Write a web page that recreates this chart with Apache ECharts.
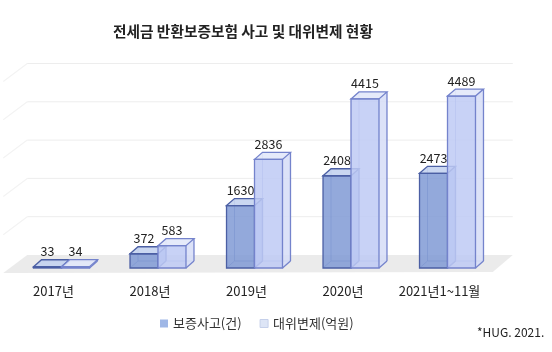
<!DOCTYPE html>
<html>
<head>
<meta charset="utf-8">
<script src="https://cdn.jsdelivr.net/npm/echarts@6/dist/echarts.min.js"></script>
<style>
  html, body { margin: 0; padding: 0; background: #fff; }
  #main { width: 552px; height: 352px; }
</style>
</head>
<body>
<div id="main"></div>
<script>
	'use strict';

	var categories = ['2017년', '2018년', '2019년', '2020년', '2021년1~11월'];
	var accidents = [33, 372, 1630, 2408, 2473];     // 보증사고(건)
	var repayments = [34, 583, 2836, 4415, 4489];   // 대위변제(억원)
	var wallTicks = [0, 1000, 2000, 3000, 4000, 5000];

	var FONT = 'Noto Sans CJK KR';
	var DX = 8, DY = -7;

	var palettes = [{
		front: 'rgba(128,154,213,0.85)',
		top: 'rgba(196,211,240,0.9)',
		side: 'rgba(160,181,228,0.85)',
		edge: '#4b5fa4'
	}, {
		front: 'rgba(190,202,244,0.85)',
		top: 'rgba(226,232,250,0.9)',
		side: 'rgba(214,221,247,0.85)',
		edge: '#7483cc'
	}];

	function barRenderer(idx) {
		var pal = palettes[idx];
		return function(params, api) {
			var cat = api.value(0), val = api.value(1);
			var top = api.coord([cat, val]);
			var base = api.coord([cat, 0]);
			var w = api.size([1, 0])[0] * 0.29;
			var x0 = idx === 0 ? top[0] - w : top[0];
			var x1 = x0 + w;
			var yt = top[1], yb = base[1];
			var edge = { stroke: pal.edge, lineWidth: 1.3, fill: null };
			var hidden = { stroke: pal.edge, lineWidth: 1, opacity: 0.55, fill: null };
			function line(a, b, st) {
				return { type: 'line', shape: { x1: a[0], y1: a[1], x2: b[0], y2: b[1] }, style: st };
			}
			return {
				type: 'group',
				children: [
					// hidden back edges
					line([x0 + DX, yt + DY], [x0 + DX, yb + DY], hidden),
					line([x0 + DX, yb + DY], [x1 + DX, yb + DY], hidden),
					line([x0, yb], [x0 + DX, yb + DY], hidden),
					// faces
					{ type: 'polygon', shape: { points: [[x1, yt], [x1 + DX, yt + DY], [x1 + DX, yb + DY], [x1, yb]] },
						style: { fill: pal.side } },
					{ type: 'polygon', shape: { points: [[x0, yt], [x0 + DX, yt + DY], [x1 + DX, yt + DY], [x1, yt]] },
						style: { fill: pal.top } },
					{ type: 'rect', shape: { x: x0, y: yt, width: w, height: yb - yt },
						style: { fill: pal.front } },
					// visible edges
					{ type: 'rect', shape: { x: x0, y: yt, width: w, height: yb - yt }, style: edge },
					{ type: 'polygon', shape: { points: [[x0, yt], [x0 + DX, yt + DY], [x1 + DX, yt + DY], [x1, yt]] }, style: edge },
					line([x1 + DX, yt + DY], [x1 + DX, yb + DY], edge),
					line([x1 + DX, yb + DY], [x1, yb], edge),
					// value label
					{ type: 'text', x: x0 + w / 2, y: yt - 9,
						style: { text: String(val), fill: '#222', font: '12.5px "' + FONT + '"',
							align: 'center', verticalAlign: 'bottom' } }
				]
			};
		};
	}

	function wallRenderer(params, api) {
		var v = api.value(1);
		var cs = params.coordSys;
		var y = api.coord([0, v])[1] - 13;
		var bl = cs.x + 14, br = cs.x + cs.width + 17;
		if (v === 0) {
			return {
				type: 'polygon',
				shape: { points: [[bl, y], [br, y], [br - 20, y + 17], [bl - 24, y + 18]] },
				style: { fill: '#ebebeb' }
			};
		}
		return {
			type: 'group',
			children: [
				{ type: 'line', shape: { x1: bl - 24, y1: y + 18, x2: bl, y2: y }, style: { stroke: '#f3f3f3', lineWidth: 1.2 } },
				{ type: 'line', shape: { x1: bl, y1: y, x2: br, y2: y }, style: { stroke: '#ededed', lineWidth: 1 } }
			]
		};
	}

	var chart = echarts.init(document.getElementById('main'));
	chart.setOption({
		animation: false,
		backgroundColor: '#fff',
		title: {
			text: '전세금 반환보증보험 사고 및 대위변제 현황',
			left: 113,
			top: 24,
			padding: 0,
			textStyle: { fontFamily: FONT, fontSize: 14.7, fontWeight: 'bold', color: '#222' }
		},
		legend: {
			left: 160,
			top: 317,
			padding: 0,
			icon: 'rect',
			itemWidth: 8,
			itemHeight: 8,
			itemGap: 18,
			textStyle: { fontFamily: FONT, fontSize: 13, color: '#333' },
			data: [
				{ name: '보증사고(건)', itemStyle: { color: '#9fb7e6' } },
				{ name: '대위변제(억원)', itemStyle: { color: '#dde5f6', borderColor: '#c5d0ea', borderWidth: 1 } }
			]
		},
		graphic: [{
			type: 'text',
			left: 477,
			top: 326,
			style: { text: '*HUG. 2021.', fill: '#222', font: '12px "' + FONT + '"' }
		}],
		grid: { left: 13.25, right: 56.25, top: 76.5, bottom: 84 },
		xAxis: {
			type: 'category',
			data: categories,
			axisLine: { show: false },
			axisTick: { show: false },
			axisLabel: {
				interval: 0,
				margin: 17,
				padding: [0, 16, 0, 0],
				fontFamily: FONT,
				fontSize: 13,
				color: '#222'
			}
		},
		yAxis: {
			type: 'value',
			min: 0,
			max: 5000,
			interval: 1000,
			show: false
		},
		series: [{
			name: 'wall',
			type: 'custom',
			silent: true,
			z: 1,
			renderItem: wallRenderer,
			data: wallTicks.map(function(v) { return [0, v]; })
		}, {
			name: '보증사고(건)',
			type: 'custom',
			z: 2,
			itemStyle: { color: '#9fb7e6' },
			renderItem: barRenderer(0),
			data: accidents.map(function(v, i) { return [i, v]; })
		}, {
			name: '대위변제(억원)',
			type: 'custom',
			z: 3,
			itemStyle: { color: '#dde5f6' },
			renderItem: barRenderer(1),
			data: repayments.map(function(v, i) { return [i, v]; })
		}]
	});
</script>
</body>
</html>
